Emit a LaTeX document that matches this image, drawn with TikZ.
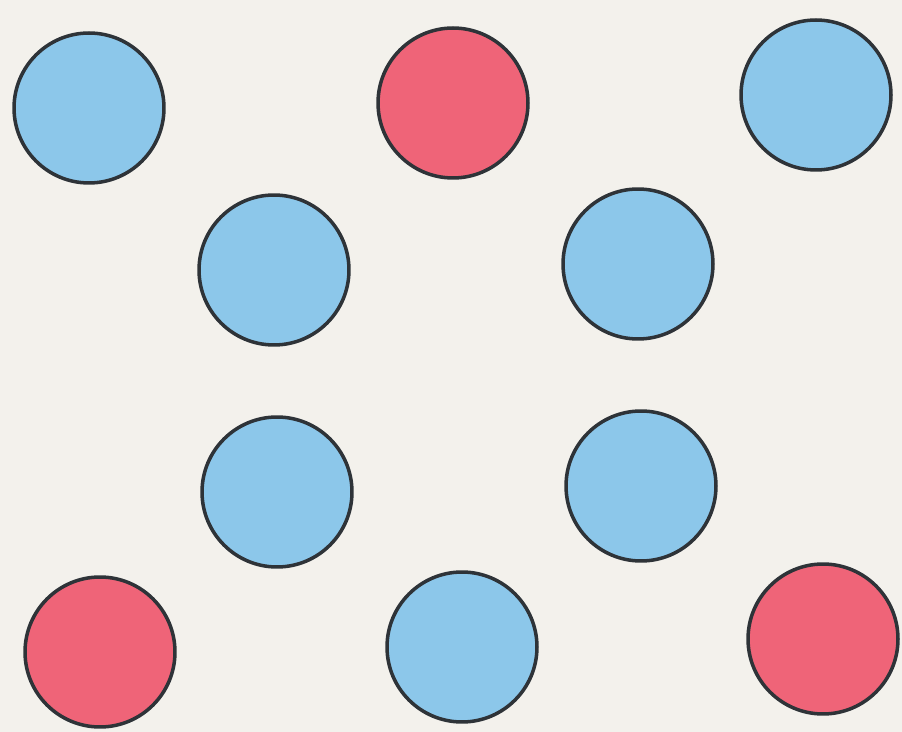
\documentclass[tikz,border=0pt]{standalone}
\usepackage{tikz}
\usetikzlibrary{positioning}
\definecolor{paper}{HTML}{F3F1EC}
\definecolor{dotblue}{HTML}{8CC7EA}
\definecolor{dotred}{HTML}{EF6478}
\definecolor{rim}{HTML}{2E3338}

\begin{document}
\begin{tikzpicture}[x=0.02cm,y=-0.02cm,
  dot/.style={circle,draw=rim,line width=2pt,minimum size=3.0cm,inner sep=0pt},
  bluedot/.style={dot,fill=dotblue},
  reddot/.style={dot,fill=dotred}]
  \fill[paper] (0,0) rectangle (902,732);
  \useasboundingbox (0,0) rectangle (902,732);
  % top row
  \node[bluedot] (topleft) at (89,108) {};
  \node[reddot] (topmid) at (453,103) {};
  \node[bluedot] (topright) at (816,95) {};
  % inner rows
  \node[bluedot] (upleft) at (274,270) {};
  \node[bluedot] (upright) at (638,264) {};
  \node[bluedot] (lowleft) at (277,492) {};
  \node[bluedot] (lowright) at (641,486) {};
  % bottom row
  \node[reddot] (botleft) at (100,652) {};
  \node[bluedot] (botmid) at (462,647) {};
  \node[reddot] (botright) at (823,639) {};
\end{tikzpicture}
\end{document}
